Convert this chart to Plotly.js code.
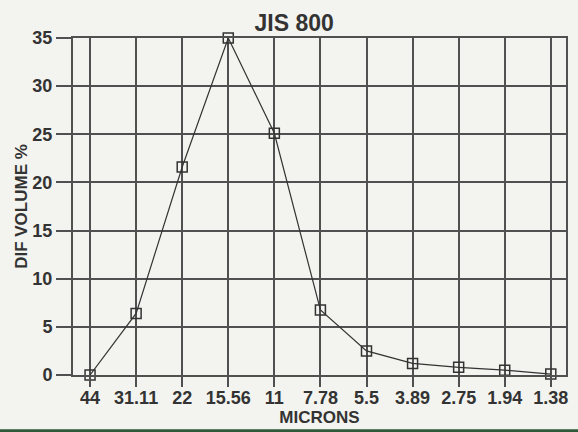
<!DOCTYPE html>
<html>
<head>
<meta charset="utf-8">
<script src="https://cdn.plot.ly/plotly-3.0.1.min.js"></script>
<style>html,body{margin:0;padding:0;background:#f3f4ef;}</style>
</head>
<body>
<div id="chart" style="width:578px;height:432px;"></div>
<script>
const microns = ["44", "31.11", "22", "15.56", "11", "7.78", "5.5", "3.89", "2.75", "1.94", "1.38"];
const difVolume = [0, 6.4, 21.6, 35, 25.1, 6.75, 2.5, 1.2, 0.8, 0.5, 0.1];
const yTicks = [0, 5, 10, 15, 20, 25, 30, 35];

const ink = '#333333';
const grid = '#505050';
const fontFam = 'Liberation Sans, Arial, sans-serif';

const trace = {
  x: microns.map((_, i) => i),
  y: difVolume,
  type: 'scatter',
  mode: 'lines+markers',
  line: {color: ink, width: 1.2},
  marker: {symbol: 'square-open', size: 10, color: ink, line: {color: ink, width: 1.5}},
  cliponaxis: false,
  hoverinfo: 'skip'
};

const layout = {
  width: 578, height: 432,
  paper_bgcolor: '#f3f4ef',
  plot_bgcolor: '#f3f4ef',
  margin: {l: 73, r: 12, t: 38, b: 57},
  showlegend: false,
  title: {text: '<b>JIS 800</b>', x: 0.509, xanchor: 'center', y: 0.947, yanchor: 'middle',
          font: {family: fontFam, size: 23, color: ink}},
  xaxis: {
    range: [-0.37, 10.33],
    tickmode: 'array',
    tickvals: microns.map((_, i) => i),
    ticktext: microns.map(s => '<b>' + s + '</b>'),
    ticks: 'outside', ticklen: 10, tickwidth: 2, tickcolor: grid,
    ticklabelstandoff: -5,
    showgrid: true, gridcolor: grid, gridwidth: 2,
    showline: true, linecolor: grid, linewidth: 2, mirror: true,
    zeroline: false,
    tickfont: {family: fontFam, size: 18, color: ink},
    title: {text: '<b>MICRONS</b>', standoff: 3, font: {family: fontFam, size: 17, color: ink}}
  },
  yaxis: {
    range: [0, 35],
    tickmode: 'array',
    tickvals: yTicks,
    ticktext: yTicks.map(v => '<b>' + v + '</b>'),
    ticks: 'outside', ticklen: 15, tickwidth: 2, tickcolor: grid,
    showgrid: true, gridcolor: grid, gridwidth: 2,
    showline: true, linecolor: grid, linewidth: 2, mirror: true,
    zeroline: false,
    tickfont: {family: fontFam, size: 18, color: ink},
    title: {text: '<b>DIF VOLUME %</b>', standoff: 0, font: {family: fontFam, size: 17, color: ink}}
  },
  shapes: [{
    type: 'rect', xref: 'paper', yref: 'paper',
    x0: -0.2, x1: 1.1, y0: -0.169, y1: -0.161,
    fillcolor: '#2f5a3a', line: {width: 0}
  }]
};

Plotly.newPlot('chart', [trace], layout, {displayModeBar: false, staticPlot: true});
</script>
</body>
</html>
